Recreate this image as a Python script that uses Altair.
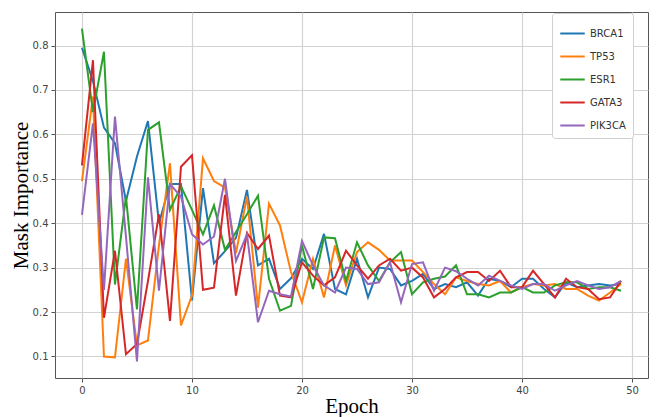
import altair as alt
import pandas as pd

epochs = list(range(50))
genes = ["BRCA1", "TP53", "ESR1", "GATA3", "PIK3CA"]
colors = ["#1f77b4", "#ff7f0e", "#2ca02c", "#d62728", "#9467bd"]

brca1 = [0.795, 0.72, 0.615, 0.58, 0.45, 0.55, 0.63, 0.40, 0.488, 0.488,
         0.226, 0.479, 0.31, 0.337, 0.367, 0.475, 0.305, 0.32, 0.252, 0.276,
         0.32, 0.297, 0.376, 0.252, 0.24, 0.32, 0.233, 0.30, 0.297, 0.26,
         0.27, 0.286, 0.252, 0.263, 0.256, 0.267, 0.237, 0.275, 0.27, 0.256,
         0.275, 0.275, 0.252, 0.233, 0.267, 0.256, 0.26, 0.263, 0.26, 0.263]
tp53 = [0.495, 0.685, 0.10, 0.098, 0.32, 0.125, 0.136, 0.35, 0.535, 0.17,
        0.237, 0.546, 0.495, 0.48, 0.333, 0.46, 0.21, 0.444, 0.395, 0.29,
        0.222, 0.32, 0.233, 0.35, 0.26, 0.335, 0.357, 0.34, 0.316, 0.316,
        0.316, 0.29, 0.263, 0.24, 0.278, 0.27, 0.263, 0.26, 0.27, 0.244,
        0.256, 0.263, 0.26, 0.263, 0.252, 0.252, 0.237, 0.226, 0.244, 0.263]
esr1 = [0.838, 0.65, 0.786, 0.262, 0.46, 0.206, 0.61, 0.627, 0.43, 0.483,
        0.43, 0.375, 0.44, 0.34, 0.38, 0.42, 0.462, 0.275, 0.203, 0.214,
        0.35, 0.252, 0.368, 0.366, 0.27, 0.357, 0.305, 0.27, 0.312, 0.335,
        0.24, 0.267, 0.275, 0.28, 0.305, 0.24, 0.24, 0.233, 0.244, 0.244,
        0.256, 0.244, 0.244, 0.26, 0.267, 0.267, 0.252, 0.256, 0.256, 0.248]
gata3 = [0.53, 0.767, 0.187, 0.338, 0.105, 0.128, 0.27, 0.42, 0.18, 0.527,
         0.553, 0.25, 0.255, 0.464, 0.237, 0.378, 0.342, 0.372, 0.237, 0.233,
         0.312, 0.282, 0.26, 0.278, 0.338, 0.305, 0.275, 0.305, 0.32, 0.293,
         0.30, 0.278, 0.233, 0.252, 0.278, 0.29, 0.29, 0.27, 0.293, 0.256,
         0.256, 0.293, 0.263, 0.233, 0.275, 0.256, 0.252, 0.229, 0.233, 0.27]
pik3ca = [0.419, 0.625, 0.25, 0.64, 0.37, 0.089, 0.503, 0.248, 0.488, 0.46,
          0.375, 0.352, 0.37, 0.50, 0.315, 0.375, 0.177, 0.248, 0.24, 0.235,
          0.36, 0.305, 0.26, 0.244, 0.30, 0.297, 0.263, 0.267, 0.312, 0.222,
          0.308, 0.312, 0.248, 0.30, 0.292, 0.275, 0.26, 0.282, 0.27, 0.26,
          0.252, 0.263, 0.263, 0.248, 0.26, 0.27, 0.26, 0.252, 0.256, 0.27]

x_ticks = [0, 10, 20, 30, 40, 50]
y_ticks = [0.1, 0.2, 0.3, 0.4, 0.5, 0.6, 0.7, 0.8]

series = [brca1, tp53, esr1, gata3, pik3ca]
rows = []
for g, vals in zip(genes, series):
    for e, v in zip(epochs, vals):
        rows.append({"gene": g, "epoch": e, "value": v, "order": genes.index(g)})
df = pd.DataFrame(rows)

ymin = min(min(s) for s in series)
ymax = max(max(s) for s in series)
ypad = (ymax - ymin) * 0.05
xpad = (max(epochs) - min(epochs)) * 0.05

label_font = "DejaVu Sans"
title_font = "Liberation Serif"

chart = alt.Chart(df).mark_line(strokeWidth=2, clip=True).encode(
    x=alt.X("epoch:Q",
            scale=alt.Scale(domain=[min(epochs) - xpad, max(epochs) + xpad], nice=False, zero=False),
            axis=alt.Axis(values=x_ticks, title="Epoch", format="d")),
    y=alt.Y("value:Q",
            scale=alt.Scale(domain=[ymin - ypad, ymax + ypad], nice=False, zero=False),
            axis=alt.Axis(values=y_ticks, title="Mask Importance", format=".1f")),
    color=alt.Color("gene:N",
                    scale=alt.Scale(domain=genes, range=colors),
                    legend=alt.Legend(title=None, orient="none", legendX=497, legendY=1,
                                      symbolType="stroke", symbolStrokeWidth=2, symbolSize=600,
                                      labelFontSize=10, labelFont=label_font, labelColor="#333",
                                      rowPadding=4, padding=7, strokeColor="#d0d0d0",
                                      fillColor="#ffffff", cornerRadius=3)),
    detail="gene:N",
    order="order:Q",
).properties(
    width=593,
    height=366,
    autosize=alt.AutoSizeParams(type="none"),
    padding={"left": 47, "top": 4, "right": 5, "bottom": 39},
).configure_view(
    stroke="#555555", strokeWidth=1
).configure_axis(
    grid=True, gridColor="#d3d3d3", gridWidth=1.2,
    domain=False, tickColor="#555555", tickSize=4,
    labelFont=label_font, labelFontSize=10, labelColor="#444444",
    titleFont=title_font, titleFontWeight="normal", titleColor="#000000",
).configure_axisX(
    titleFontSize=21, titlePadding=0, labelPadding=3,
).configure_axisY(
    titleFontSize=21, titlePadding=1, labelPadding=3,
)

chart.save("out.html", embed_options={"renderer": "svg", "actions": False})
